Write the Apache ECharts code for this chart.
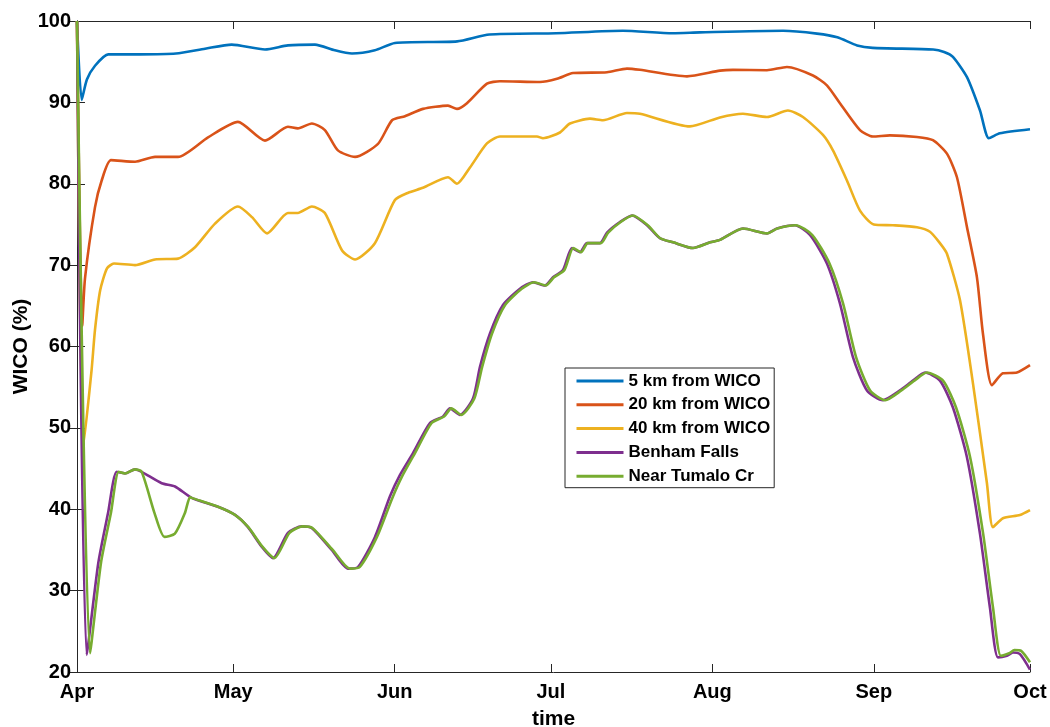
<!DOCTYPE html>
<html>
<head>
<meta charset="utf-8">
<script src="https://cdn.jsdelivr.net/npm/echarts@6/dist/echarts.min.js"></script>
<style>
html,body{margin:0;padding:0;background:#fff;}
#c{width:1050px;height:727px;}
</style>
</head>
<body>
<div id="c"></div>
<script>
// x = days since Apr 1
const monthTicks = [0, 30, 61, 91, 122, 153, 183];
const monthLabels = ['Apr', 'May', 'Jun', 'Jul', 'Aug', 'Sep', 'Oct'];
const yTicks = [20, 30, 40, 50, 60, 70, 80, 90, 100];

const seriesNames = ['5 km from WICO', '20 km from WICO', '40 km from WICO', 'Benham Falls', 'Near Tumalo Cr'];
const seriesColors = ['#0072BD', '#D95319', '#EDB120', '#7E2F8E', '#77AC30'];

const km5 = [[0,100],[0.9,90.3],[1.9,92.8],[3.46,94.5],[6.0,95.9],[12,95.9],[19.0,96.0],[24.6,96.6],[29.7,97.1],[36.1,96.5],[40.5,97.0],[45.7,97.1],[49.5,96.4],[52.8,96.0],[57.2,96.4],[61.05,97.3],[73.0,97.5],[79.2,98.35],[92.0,98.5],[104.8,98.8],[114.4,98.5],[119.6,98.6],[135.6,98.8],[142.1,98.45],[146,98.0],[149.8,97.0],[152.8,96.7],[164.4,96.5],[166.5,96.2],[168.2,95.6],[170.9,93.1],[173.4,89.0],[175.1,85.6],[177.2,86.2],[183,86.7]];

const km20 = [[0,100],[1.0,62.5],[1.54,68.4],[3.45,77.1],[4.74,80.4],[6.53,82.9],[11.14,82.7],[14.98,83.3],[19.4,83.3],[25.16,85.7],[30.9,87.6],[36.1,85.3],[40.5,87.0],[42.4,86.8],[45.1,87.4],[47.6,86.6],[50.1,84.1],[53.4,83.3],[57.8,84.9],[60.5,87.8],[62.98,88.3],[66.44,89.2],[71.24,89.6],[72.96,89.2],[74.88,89.9],[78.72,92.3],[81.22,92.6],[88.9,92.5],[92.17,92.9],[95.24,93.6],[101.77,93.7],[105.61,94.15],[108.1,94.0],[117.13,93.2],[123.46,93.9],[125.96,94.0],[132.49,93.95],[136.33,94.35],[141.32,93.3],[144.0,92.1],[146.5,89.9],[150.35,86.6],[152.84,85.8],[156.1,85.95],[161.29,85.75],[164.36,85.35],[167.05,83.7],[168.97,80.8],[170.89,74.7],[172.81,68.5],[173.96,61.6],[175.69,55.25],[177.8,56.7],[180.49,56.8],[183,57.7]];

const km40 = [[0,100],[1.2,47.6],[2.8,57.1],[3.45,62],[4.45,66.9],[5.76,69.6],[7.1,70.2],[11.14,70.0],[14.98,70.7],[19.4,70.8],[22.66,72.2],[26.5,75.1],[30.9,77.2],[33.6,75.9],[36.5,73.9],[40.5,76.4],[42.4,76.4],[45.1,77.2],[47.6,76.4],[50.9,71.8],[53.4,70.7],[57.2,72.7],[61.05,78.0],[63.6,78.9],[66.44,79.5],[71.24,80.8],[72.96,80.0],[75.46,82.0],[78.72,84.95],[81.22,85.8],[88.33,85.8],[89.48,85.6],[92.74,86.3],[94.66,87.4],[98.5,88.0],[101.0,87.8],[105.61,88.7],[108.1,88.6],[117.7,87.05],[123.46,88.15],[127.88,88.6],[132.49,88.2],[136.52,89.0],[139.4,88.2],[143.24,86.0],[145.16,84.1],[147.85,80.4],[150.35,76.7],[153.0,75.0],[156.68,74.9],[161.29,74.65],[163.79,74.1],[165.7,72.7],[167.05,71.4],[169.55,65.7],[172.04,55.5],[174.73,43.2],[175.88,37.8],[177.8,38.9],[181.07,39.3],[183,39.9]];

const benham = [[0,100],[1.86,22.1],[4.09,33.4],[5.95,39.5],[7.62,44.6],[9.22,44.4],[11.14,44.9],[12.42,44.6],[16.26,43.2],[18.82,42.8],[22.02,41.4],[27.07,40.3],[30.34,39.3],[32.83,37.8],[35.46,35.4],[37.63,34.0],[40.51,37.1],[43.15,37.9],[45.07,37.7],[48.91,35.0],[52.04,32.7],[53.96,32.9],[57.22,36.6],[60.1,41.6],[62.0,44.2],[64.52,46.9],[67.78,50.6],[70.28,51.4],[71.62,52.4],[73.54,51.6],[76.04,53.6],[77.38,57.5],[79.3,61.6],[81.8,65.1],[85.06,67.1],[87.56,67.9],[89.86,67.5],[91.4,68.5],[93.32,69.4],[95.05,72.1],[96.58,71.6],[97.93,72.7],[100.4,72.7],[101.77,74.0],[104.26,75.3],[106.57,76.1],[109.45,74.9],[111.94,73.3],[114.44,72.8],[118.28,72.1],[121.54,72.8],[123.46,73.1],[127.88,74.5],[132.49,73.9],[134.41,74.5],[137.86,74.9],[140.75,73.7],[144.0,70.2],[146.5,65.3],[149.0,58.7],[151.69,54.6],[154.76,53.4],[158.03,54.6],[160.52,55.8],[162.83,56.8],[165.71,55.8],[168.2,52.5],[170.89,46.4],[173.39,37.0],[175.31,27.9],[176.84,21.8],[178.57,22.0],[179.72,22.4],[181.07,22.2],[183,20.3]];

const tumalo = [[0,100],[2.5,22.3],[4.6,33.4],[6.5,39.5],[8.0,44.6],[9.22,44.4],[11.14,44.9],[12.42,44.6],[14.9,39.5],[16.8,36.6],[18.8,37.0],[20.7,39.5],[21.7,41.5],[22.02,41.4],[27.07,40.3],[30.34,39.3],[32.9,37.8],[35.6,35.4],[37.9,34.0],[40.8,37.1],[43.3,37.9],[45.2,37.7],[49.1,35.0],[52.4,32.7],[54.3,32.9],[57.6,36.6],[60.5,41.3],[62.4,44.0],[64.9,46.9],[68.1,50.6],[70.5,51.4],[71.9,52.4],[73.8,51.6],[76.3,53.6],[77.8,57.5],[79.7,61.6],[82.2,65.1],[85.4,67.1],[87.8,67.9],[90.0,67.5],[91.6,68.5],[93.6,69.4],[95.3,72.1],[96.8,71.6],[98.1,72.7],[100.6,72.7],[102.0,74.0],[104.4,75.3],[106.7,76.1],[109.6,74.9],[112.0,73.3],[114.5,72.8],[118.3,72.1],[121.6,72.8],[123.5,73.1],[127.9,74.5],[132.5,73.9],[134.5,74.5],[138.0,74.9],[141.2,73.7],[144.5,70.2],[147.1,65.3],[149.6,58.7],[152.3,54.6],[155.2,53.4],[158.3,54.6],[160.8,55.8],[163.2,56.8],[166.3,55.8],[168.8,52.5],[171.5,46.4],[174.0,37.0],[175.9,27.9],[177.4,22.0],[179.0,22.3],[180.0,22.7],[181.3,22.6],[183,21.2]];

const allData = [km5, km20, km40, benham, tumalo];

const FONT = '"Liberation Sans", Arial, Helvetica, sans-serif';
const AXC = '#262626';

const chart = echarts.init(document.getElementById('c'), null, {renderer: 'canvas'});

const series = allData.map((d, i) => ({
  name: seriesNames[i],
  type: 'line',
  data: d,
  xAxisIndex: 0,
  yAxisIndex: 0,
  symbol: 'none',
  smooth: 0.22,
  lineStyle: {color: seriesColors[i], width: 2.6},
  itemStyle: {color: seriesColors[i]},
  z: 2 + i
}));

chart.setOption({
  animation: false,
  backgroundColor: '#ffffff',
  grid: {left: 77, right: 20, top: 21, bottom: 55, containLabel: false, outerBoundsMode: 'none'},
  legend: {
    orient: 'vertical',
    left: 565,
    top: 368,
    padding: [4.5, 4, 3, 10],
    itemGap: 6.8,
    itemWidth: 47,
    itemHeight: 17,
    borderColor: '#262626',
    borderWidth: 1,
    backgroundColor: '#ffffff',
    itemStyle: {opacity: 0, color: 'transparent', borderWidth: 0},
    lineStyle: {width: 3},
    textStyle: {fontFamily: FONT, fontWeight: 'bold', fontSize: 17, color: '#000'},
    data: seriesNames
  },
  xAxis: [{
    type: 'value',
    min: 0, max: 183,
    position: 'bottom',
    name: 'time',
    nameLocation: 'middle',
    nameGap: 37,
    nameMoveOverlap: false,
    nameTextStyle: {fontFamily: FONT, fontWeight: 'bold', fontSize: 21, color: '#000'},
    axisLine: {show: true, lineStyle: {color: AXC, width: 1}},
    axisTick: {show: true, inside: true, length: 8, customValues: monthTicks, lineStyle: {color: AXC}},
    axisLabel: {show: true, customValues: monthTicks, margin: 10,
      formatter: v => monthLabels[monthTicks.indexOf(v)] || '',
      fontFamily: FONT, fontWeight: 'bold', fontSize: 20, color: '#000'},
    splitLine: {show: false}
  }, {
    type: 'value',
    min: 0, max: 183,
    position: 'top',
    axisLine: {show: true, lineStyle: {color: AXC, width: 1}},
    axisTick: {show: true, inside: true, length: 8, customValues: monthTicks, lineStyle: {color: AXC}},
    axisLabel: {show: false},
    splitLine: {show: false}
  }],
  yAxis: [{
    type: 'value',
    min: 20, max: 100, interval: 10,
    position: 'left',
    name: 'WICO (%)',
    nameLocation: 'middle',
    nameGap: 45,
    nameMoveOverlap: false,
    nameTextStyle: {fontFamily: FONT, fontWeight: 'bold', fontSize: 21, color: '#000'},
    axisLine: {show: true, lineStyle: {color: AXC, width: 1}},
    axisTick: {show: true, inside: true, length: 8, lineStyle: {color: AXC}},
    axisLabel: {show: true, margin: 6, formatter: v => (yTicks.indexOf(v) >= 0 ? String(v) : ''),
      fontFamily: FONT, fontWeight: 'bold', fontSize: 20, color: '#000'},
    splitLine: {show: false}
  }, {
    type: 'value',
    min: 20, max: 100, interval: 10,
    position: 'right',
    axisLine: {show: true, lineStyle: {color: AXC, width: 1}},
    axisTick: {show: true, inside: true, length: 8, lineStyle: {color: AXC}},
    axisLabel: {show: false},
    splitLine: {show: false}
  }],
  series: series
});
</script>
</body>
</html>
